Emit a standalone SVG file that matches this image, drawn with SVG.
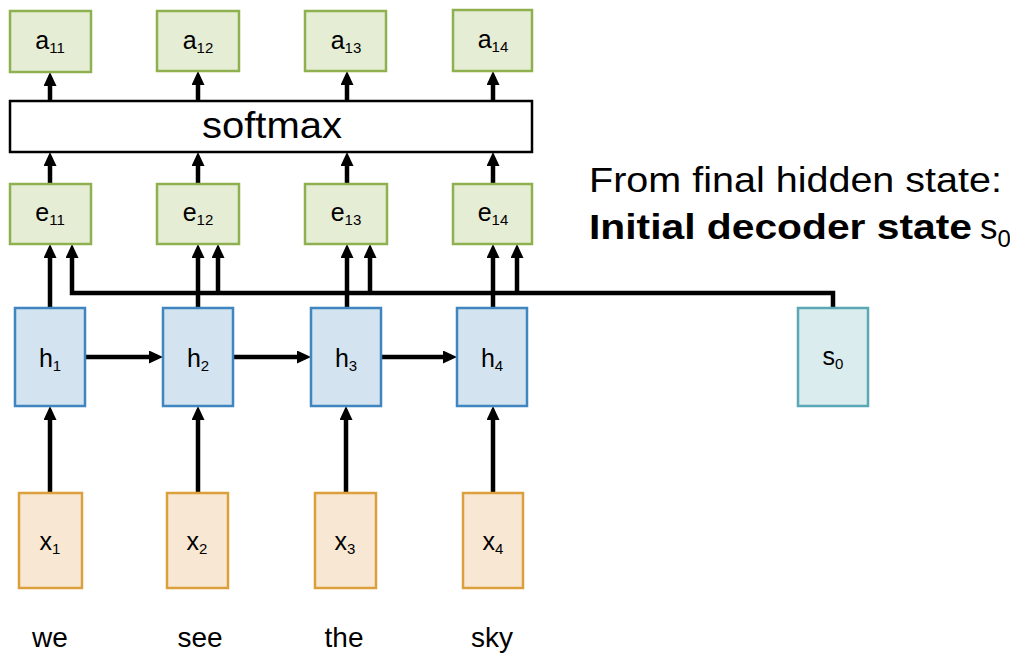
<svg xmlns="http://www.w3.org/2000/svg" width="1010" height="653" viewBox="0 0 1010 653">
<defs>
<marker id="arr" markerUnits="userSpaceOnUse" markerWidth="14" markerHeight="13" refX="4" refY="6.5" orient="auto">
<path d="M0,0 L14,6.5 L0,13 z" fill="#000"/>
</marker>
<style>
.g{fill:#e5edd5;stroke:#8fb04e;stroke-width:2.5}
.b{fill:#d4e3f0;stroke:#3f85c0;stroke-width:2.5}
.o{fill:#f8e8d3;stroke:#dba03c;stroke-width:2.5}
.t{fill:#dbecee;stroke:#5aa8b5;stroke-width:2.5}
.w{fill:#fff;stroke:#000;stroke-width:2.5}
.lb{font-family:"Liberation Sans",Arial,sans-serif;font-size:25px;fill:#000;text-anchor:middle}
.sub{font-size:15px}
.word{font-family:"Liberation Sans",Arial,sans-serif;font-size:28px;fill:#000;text-anchor:middle}
.c{fill:none;stroke:#000;stroke-width:4.5}
.ca{fill:none;stroke:#000;stroke-width:4.5;marker-end:url(#arr)}
</style>
</defs>

<g id="connectors">
<line class="ca" x1="50" y1="493" x2="50" y2="416"/>
<line class="ca" x1="198" y1="493" x2="198" y2="416"/>
<line class="ca" x1="346" y1="493" x2="346" y2="416"/>
<line class="ca" x1="493" y1="493" x2="493" y2="416"/>
<line class="ca" x1="85" y1="357" x2="153" y2="357"/>
<line class="ca" x1="233" y1="357" x2="301" y2="357"/>
<line class="ca" x1="381" y1="357" x2="447" y2="357"/>
<line class="ca" x1="50" y1="308" x2="50" y2="254"/>
<line class="ca" x1="198" y1="308" x2="198" y2="254"/>
<line class="ca" x1="347" y1="308" x2="347" y2="254"/>
<line class="ca" x1="493" y1="308" x2="493" y2="254"/>
<path class="ca" d="M833,308 L833,293 L72,293 L72,254"/>
<line class="ca" x1="218" y1="293" x2="218" y2="254"/>
<line class="ca" x1="370" y1="293" x2="370" y2="254"/>
<line class="ca" x1="517" y1="293" x2="517" y2="254"/>
<line class="ca" x1="50" y1="184" x2="50" y2="162"/>
<line class="ca" x1="198" y1="184" x2="198" y2="162"/>
<line class="ca" x1="347" y1="184" x2="347" y2="162"/>
<line class="ca" x1="493" y1="184" x2="493" y2="162"/>
<line class="ca" x1="50" y1="101" x2="50" y2="82"/>
<line class="ca" x1="198" y1="101" x2="198" y2="81"/>
<line class="ca" x1="347" y1="101" x2="347" y2="81"/>
<line class="ca" x1="493" y1="101" x2="493" y2="81"/>
</g>

<g id="a11"><rect class="g" x="10" y="11" width="81" height="61"/><text class="lb" x="50" y="49">a<tspan class="sub" dy="4">11</tspan></text></g>
<g id="a12"><rect class="g" x="157" y="11" width="82" height="60"/><text class="lb" x="198" y="49">a<tspan class="sub" dy="4">12</tspan></text></g>
<g id="a13"><rect class="g" x="305" y="11" width="81" height="60"/><text class="lb" x="346" y="49">a<tspan class="sub" dy="4">13</tspan></text></g>
<g id="a14"><rect class="g" x="453" y="10" width="79" height="61"/><text class="lb" x="493" y="48">a<tspan class="sub" dy="4">14</tspan></text></g>

<g id="softmax"><rect class="w" x="10" y="101" width="522" height="51"/><text x="202" y="138" font-family="Liberation Sans, Arial, sans-serif" font-size="36" textLength="140" lengthAdjust="spacingAndGlyphs">softmax</text></g>

<g id="e11"><rect class="g" x="10" y="184" width="81" height="60"/><text class="lb" x="50" y="221">e<tspan class="sub" dy="4">11</tspan></text></g>
<g id="e12"><rect class="g" x="157" y="184" width="82" height="60"/><text class="lb" x="198" y="221">e<tspan class="sub" dy="4">12</tspan></text></g>
<g id="e13"><rect class="g" x="305" y="184" width="82" height="60"/><text class="lb" x="346" y="221">e<tspan class="sub" dy="4">13</tspan></text></g>
<g id="e14"><rect class="g" x="453" y="184" width="79" height="60"/><text class="lb" x="493" y="221">e<tspan class="sub" dy="4">14</tspan></text></g>

<g id="h1"><rect class="b" x="15" y="308" width="70" height="98"/><text class="lb" x="50" y="367">h<tspan class="sub" dy="4">1</tspan></text></g>
<g id="h2"><rect class="b" x="163" y="308" width="70" height="98"/><text class="lb" x="198" y="367">h<tspan class="sub" dy="4">2</tspan></text></g>
<g id="h3"><rect class="b" x="311" y="308" width="70" height="98"/><text class="lb" x="346" y="367">h<tspan class="sub" dy="4">3</tspan></text></g>
<g id="h4"><rect class="b" x="457" y="308" width="70" height="98"/><text class="lb" x="492" y="367">h<tspan class="sub" dy="4">4</tspan></text></g>

<g id="s0"><rect class="t" x="798" y="308" width="70" height="98"/><text class="lb" x="833" y="365">s<tspan class="sub" dy="4">0</tspan></text></g>

<g id="x1"><rect class="o" x="19" y="493" width="63" height="95"/><text class="lb" x="50" y="550">x<tspan class="sub" dy="4">1</tspan></text></g>
<g id="x2"><rect class="o" x="167" y="493" width="61" height="95"/><text class="lb" x="197" y="550">x<tspan class="sub" dy="4">2</tspan></text></g>
<g id="x3"><rect class="o" x="315" y="493" width="61" height="95"/><text class="lb" x="345" y="550">x<tspan class="sub" dy="4">3</tspan></text></g>
<g id="x4"><rect class="o" x="463" y="493" width="60" height="95"/><text class="lb" x="493" y="550">x<tspan class="sub" dy="4">4</tspan></text></g>

<g id="words">
<text class="word" x="50" y="647">we</text>
<text class="word" x="200" y="647">see</text>
<text class="word" x="344" y="647">the</text>
<text class="word" x="492" y="647">sky</text>
</g>

<g id="caption" font-family="Liberation Sans, Arial, sans-serif" fill="#000">
<text x="589" y="192" font-size="35" textLength="413" lengthAdjust="spacingAndGlyphs">From final hidden state:</text>
<text x="589" y="239" font-size="35" font-weight="bold" textLength="383" lengthAdjust="spacingAndGlyphs">Initial decoder state</text>
<text x="980" y="239" font-size="35">s<tspan font-size="24" dy="8">0</tspan></text>
</g>
</svg>
